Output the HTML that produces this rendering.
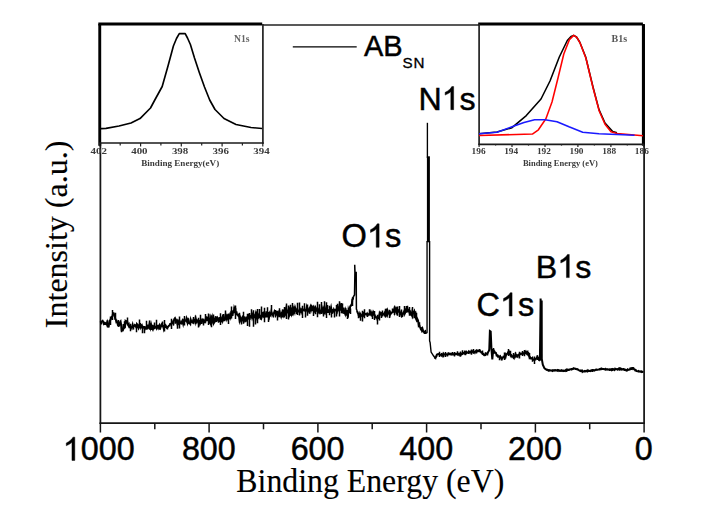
<!DOCTYPE html>
<html><head><meta charset="utf-8"><title>XPS</title>
<style>
html,body{margin:0;padding:0;background:#fff;}
body{width:704px;height:506px;overflow:hidden;}
svg{display:block;}
.sans{font-family:"Liberation Sans",sans-serif;}
.serif{font-family:"Liberation Serif",serif;}
</style></head>
<body>
<svg width="704" height="506" viewBox="0 0 704 506">
<defs><filter id="soft" x="-5%" y="-30%" width="110%" height="160%"><feGaussianBlur stdDeviation="0.38"/></filter></defs>
<rect x="0" y="0" width="704" height="506" fill="#ffffff"/>
<!-- main frame -->
<g stroke="#161616" stroke-width="1.75" fill="none">
<line x1="100.4" y1="24.9" x2="100.4" y2="423.95000000000005"/>
<line x1="99.55000000000001" y1="423.1" x2="644.95" y2="423.1"/>
<line x1="644.1" y1="24.9" x2="644.1" y2="423.95000000000005"/>
<line x1="100.4" y1="24.9" x2="644.1" y2="24.9" stroke-width="1.5" stroke="#222"/>
<g stroke-width="1.5"><line x1="644.1" y1="423.1" x2="644.1" y2="432.5"/><line x1="589.7" y1="423.1" x2="589.7" y2="429.3"/><line x1="535.4" y1="423.1" x2="535.4" y2="432.5"/><line x1="481.0" y1="423.1" x2="481.0" y2="429.3"/><line x1="426.6" y1="423.1" x2="426.6" y2="432.5"/><line x1="372.2" y1="423.1" x2="372.2" y2="429.3"/><line x1="317.9" y1="423.1" x2="317.9" y2="432.5"/><line x1="263.5" y1="423.1" x2="263.5" y2="429.3"/><line x1="209.1" y1="423.1" x2="209.1" y2="432.5"/><line x1="154.8" y1="423.1" x2="154.8" y2="429.3"/><line x1="100.4" y1="423.1" x2="100.4" y2="432.5"/></g>
</g>
<!-- main spectrum -->
<g fill="none" stroke="#000" stroke-linejoin="miter" stroke-miterlimit="5"><path d="M100.5,321.2 L101.0,322.2 L101.6,321.5 L102.1,321.5 L102.7,320.9 L103.2,321.8 L103.8,323.6 L104.3,322.9 L104.9,323.7 L105.4,323.3 L105.9,324.0 L106.5,324.4 L107.0,322.8 L107.6,326.5 L108.1,326.7 L108.7,326.6 L109.2,322.4 L109.7,320.7 L110.3,320.1 L110.8,318.9 L111.4,318.5 L111.9,316.7 L112.5,316.1 L113.0,313.4 L113.6,313.2 L114.1,314.2 L114.6,314.6 L115.2,319.1 L115.7,319.3 L116.3,321.8 L116.8,321.3 L117.4,322.9 L117.9,325.1 L118.5,325.9 L119.0,325.7 L119.5,324.2 L120.1,322.3 L120.6,321.6 L121.2,325.1 L121.7,330.3 L122.3,330.4 L122.8,330.4 L123.3,329.3 L123.9,325.8 L124.4,326.3 L125.0,326.6 L125.5,321.3 L126.1,322.1 L126.6,321.1 L127.2,321.3 L127.7,324.4 L128.2,325.2 L128.8,324.3 L129.3,327.2 L129.9,327.1 L130.4,327.5 L131.0,328.2 L131.5,326.9 L132.1,326.6 L132.6,324.9 L133.1,327.2 L133.7,325.8 L134.2,326.0 L134.8,325.0 L135.3,325.4 L135.9,325.9 L136.4,328.1 L136.9,324.1 L137.5,324.8 L138.0,326.8 L138.6,328.3 L139.1,327.2 L139.7,324.3 L140.2,324.1 L140.8,327.0 L141.3,325.7 L141.8,325.2 L142.4,327.7 L142.9,327.9 L143.5,326.8 L144.0,326.9 L144.6,327.1 L145.1,328.5 L145.7,327.3 L146.2,327.2 L146.7,327.2 L147.3,324.7 L147.8,328.1 L148.4,327.7 L148.9,327.2 L149.5,324.2 L150.0,325.8 L150.5,327.6 L151.1,324.4 L151.6,326.4 L152.2,327.8 L152.7,325.0 L153.3,328.5 L153.8,327.2 L154.4,326.4 L154.9,326.9 L155.4,327.3 L156.0,326.7 L156.5,327.9 L157.1,325.7 L157.6,326.0 L158.2,327.8 L158.7,326.5 L159.3,325.4 L159.8,327.6 L160.3,328.2 L160.9,325.9 L161.4,324.8 L162.0,326.3 L162.5,326.3 L163.1,326.1 L163.6,328.1 L164.1,325.2 L164.7,327.9 L165.2,324.9 L165.8,325.5 L166.3,327.2 L166.9,327.8 L167.4,327.4 L168.0,326.8 L168.5,326.1 L169.0,325.6 L169.6,325.5 L170.1,324.1 L170.7,324.1 L171.2,323.9 L171.8,322.7 L172.3,323.0 L172.9,322.0 L173.4,323.0 L173.9,320.3 L174.5,318.7 L175.0,318.1 L175.6,319.4 L176.1,321.4 L176.7,320.8 L177.2,322.5 L177.7,325.2 L178.3,321.4 L178.8,322.4 L179.4,323.7 L179.9,323.6 L180.5,323.1 L181.0,322.0 L181.6,323.0 L182.1,322.2 L182.6,321.0 L183.2,323.7 L183.7,321.4 L184.3,320.0 L184.8,320.5 L185.4,320.5 L185.9,320.9 L186.5,318.7 L187.0,320.7 L187.5,322.7 L188.1,320.3 L188.6,321.8 L189.2,323.2 L189.7,323.2 L190.3,324.0 L190.8,320.0 L191.3,321.5 L191.9,321.3 L192.4,322.3 L193.0,322.7 L193.5,318.8 L194.1,322.4 L194.6,319.2 L195.2,321.6 L195.7,318.8 L196.2,320.7 L196.8,322.0 L197.3,320.5 L197.9,321.0 L198.4,321.8 L199.0,321.0 L199.5,320.8 L200.0,323.9 L200.5,322.9 L201.1,320.3 L201.6,323.8 L202.2,318.6 L202.7,322.3 L203.3,320.0 L203.8,320.7 L204.4,321.7 L204.9,320.7 L205.4,321.4 L206.0,317.3 L206.5,317.3 L207.1,321.1 L207.6,318.2 L208.2,318.0 L208.7,317.1 L209.2,322.2 L209.8,321.2 L210.3,322.5 L210.9,318.0 L211.4,319.7 L212.0,317.5 L212.5,321.0 L213.1,322.5 L213.6,317.9 L214.1,322.4 L214.7,321.3 L215.2,319.0 L215.8,316.3 L216.3,321.9 L216.9,319.0 L217.4,318.0 L218.0,319.8 L218.5,319.8 L219.0,321.8 L219.6,317.0 L220.1,321.0 L220.7,321.6 L221.2,321.5 L221.8,318.4 L222.3,317.3 L222.8,320.5 L223.4,318.8 L223.9,318.7 L224.5,321.0 L225.0,317.6 L225.6,314.9 L226.1,316.9 L226.7,314.4 L227.2,318.7 L227.7,317.6 L228.3,315.6 L228.8,316.5 L229.4,317.5 L229.9,315.4 L230.5,317.0 L231.0,313.7 L231.6,315.0 L232.1,315.2 L232.6,315.1 L233.2,310.5 L233.7,313.1 L234.3,308.1 L234.8,309.4 L235.4,309.2 L235.9,315.0 L236.4,311.4 L237.0,314.5 L237.5,314.7 L238.1,315.5 L238.6,315.0 L239.2,317.1 L239.7,320.2 L240.3,317.8 L240.8,319.2 L241.3,320.6 L241.9,318.9 L242.4,317.5 L243.0,318.8 L243.5,321.7 L244.1,316.5 L244.6,318.2 L245.2,321.0 L245.7,320.4 L246.2,318.7 L246.8,320.0 L247.3,318.7 L247.9,316.2 L248.4,315.4 L249.0,317.0 L249.5,319.8 L250.0,317.0 L250.6,316.3 L251.1,316.5 L251.7,315.0 L252.2,317.5 L252.8,315.5 L253.3,318.3 L253.9,314.5 L254.4,318.0 L254.9,316.0 L255.5,314.1 L256.0,318.3 L256.6,316.3 L257.1,313.6 L257.7,314.8 L258.2,316.8 L258.8,315.3 L259.3,317.4 L259.8,317.2 L260.4,316.9 L260.9,316.1 L261.5,317.9 L262.0,316.5 L262.6,316.0 L263.1,312.0 L263.6,316.6 L264.2,317.2 L264.7,314.1 L265.3,313.7 L265.8,317.4 L266.4,311.3 L266.9,315.1 L267.5,317.1 L268.0,312.2 L268.5,315.1 L269.1,316.7 L269.6,313.4 L270.2,314.5 L270.7,315.2 L271.3,311.8 L271.8,313.3 L272.4,314.0 L272.9,315.0 L273.4,313.4 L274.0,313.1 L274.5,311.5 L275.1,312.7 L275.6,315.0 L276.2,313.6 L276.7,311.8 L277.2,311.8 L277.8,316.3 L278.3,315.5 L278.9,314.5 L279.4,310.3 L280.0,314.5 L280.5,314.1 L281.1,316.1 L281.6,313.8 L282.1,312.7 L282.7,313.7 L283.2,309.6 L283.8,314.4 L284.3,313.0 L284.9,311.0 L285.4,314.6 L286.0,315.1 L286.5,309.3 L287.0,310.6 L287.6,312.2 L288.1,311.9 L288.7,310.7 L289.2,309.6 L289.8,314.3 L290.3,313.1 L290.8,308.9 L291.4,308.6 L291.9,314.1 L292.5,312.9 L293.0,314.0 L293.6,312.5 L294.1,309.3 L294.7,311.4 L295.2,307.9 L295.7,309.5 L296.3,310.7 L296.8,311.8 L297.4,309.4 L297.9,310.5 L298.5,311.5 L299.0,311.4 L299.6,311.8 L300.1,311.0 L300.6,309.9 L301.2,312.0 L301.7,310.6 L302.3,308.9 L302.8,309.2 L303.4,310.3 L303.9,310.1 L304.4,310.5 L305.0,310.2 L305.5,310.5 L306.1,309.9 L306.6,307.7 L307.2,310.8 L307.7,311.9 L308.3,310.7 L308.8,309.5 L309.3,310.7 L309.9,308.0 L310.4,306.8 L311.0,309.9 L311.5,308.0 L312.1,311.1 L312.6,307.7 L313.2,306.7 L313.7,307.8 L314.2,312.6 L314.8,308.9 L315.3,307.1 L315.9,308.2 L316.4,310.6 L317.0,310.5 L317.5,309.9 L318.0,312.3 L318.6,310.9 L319.1,309.5 L319.7,310.6 L320.2,312.5 L320.8,311.3 L321.3,311.5 L321.9,307.6 L322.4,309.3 L322.9,311.0 L323.5,309.1 L324.0,311.7 L324.6,310.8 L325.1,311.4 L325.7,309.4 L326.2,312.8 L326.8,312.1 L327.3,309.5 L327.8,310.1 L328.4,312.9 L328.9,309.3 L329.5,311.6 L330.0,311.8 L330.6,310.0 L331.1,307.7 L331.6,310.2 L332.2,310.5 L332.7,311.9 L333.3,311.2 L333.8,309.7 L334.4,311.2 L334.9,310.6 L335.5,309.9 L336.0,309.6 L336.5,309.0 L337.1,310.7 L337.6,307.4 L338.2,308.1 L338.7,309.3 L339.3,306.5 L339.8,308.4 L340.4,306.1 L340.9,307.8 L341.4,310.1 L342.0,310.1 L342.5,309.3 L343.1,309.5 L343.6,307.7 L344.2,313.8 L344.7,312.2 L345.2,313.7 L345.8,310.5 L346.3,312.3 L346.9,310.1 L347.4,315.0 L348.0,315.7 L348.5,310.0 L349.1,311.8 L349.6,312.0 L350.1,306.7 L350.7,305.6 L351.2,305.6 L351.8,304.2 L352.3,299.6 L352.9,299.0 L353.2,297.0" stroke-width="2.0"/><path d="M353.2,297.0 L354.5,295.0 L354.9,272.5 L354.7,264.7 L355.0,272.3 L356.2,272.5 L356.4,309.0 L357.2,311.0" stroke-width="1.5"/><path d="M357.2,311.0 L357.2,311.3 L357.7,312.7 L358.3,313.7 L358.8,315.6 L359.4,316.1 L359.9,314.1 L360.5,316.0 L361.0,315.5 L361.6,315.1 L362.1,315.8 L362.6,315.5 L363.2,315.7 L363.7,312.8 L364.3,313.0 L364.8,314.5 L365.4,314.3 L365.9,314.1 L366.4,314.4 L367.0,313.6 L367.5,315.3 L368.1,314.9 L368.6,314.4 L369.2,313.7 L369.7,314.3 L370.3,312.1 L370.8,313.3 L371.3,314.5 L371.9,312.7 L372.4,314.7 L373.0,314.7 L373.5,312.8 L374.1,314.3 L374.6,315.0 L375.2,316.6 L375.7,317.5 L376.2,317.5 L376.8,317.3 L377.3,318.8 L377.9,318.0 L378.4,318.0 L379.0,316.6 L379.5,314.5 L380.0,312.9 L380.6,314.0 L381.1,313.5 L381.7,313.0 L382.2,314.1 L382.8,313.6 L383.3,314.2 L383.9,314.6 L384.4,313.5 L384.9,316.3 L385.5,313.4 L386.0,315.1 L386.6,313.8 L387.1,314.9 L387.7,311.1 L388.2,312.5 L388.8,313.4 L389.3,313.6 L389.8,315.0 L390.4,312.7 L390.9,313.6 L391.5,312.7 L392.0,312.6 L392.6,311.8 L393.1,310.7 L393.6,311.3 L394.2,309.1 L394.7,311.5 L395.3,308.6 L395.8,309.8 L396.4,311.6 L396.9,308.8 L397.5,309.6 L398.0,311.5 L398.5,310.7 L399.1,310.2 L399.6,312.0 L400.2,312.9 L400.7,313.8 L401.3,312.7 L401.8,316.4 L402.4,316.1 L402.9,313.5 L403.4,313.1 L404.0,311.7 L404.5,313.2 L405.1,310.1 L405.6,311.3 L406.2,309.5 L406.7,308.8 L407.2,310.1 L407.8,310.9 L408.3,309.8 L408.9,309.6 L409.4,311.9 L410.0,311.4 L410.5,312.7 L411.1,315.0 L411.6,315.4 L412.1,312.7 L412.7,315.0 L413.2,312.0 L413.8,312.2 L414.3,311.2 L414.9,313.5 L415.4,313.0 L416.0,318.8 L416.5,319.9 L417.0,318.3 L417.6,319.4 L418.1,320.7 L418.7,325.5 L419.2,324.9 L419.8,326.6 L420.3,327.6 L420.8,329.0 L421.4,328.5 L421.9,330.2 L422.5,328.8 L423.0,330.8 L423.6,331.6 L424.1,332.2 L424.7,331.7 L425.2,331.3 L425.7,333.0 L426.6,333.0" stroke-width="2.0"/><path d="M427.4,122.8V158" stroke-width="1.35"/><path d="M428.4,156.3V242.3" stroke-width="3.0"/><path d="M426.4,333.3L427.05,332.5V241" stroke-width="1.35"/><path d="M429.6,241V341L430.1,342.5L431.1,352L433.5,355.8L435.2,358" stroke-width="1.4"/><path d="M434.6,357.6 L435.2,358.0 L435.2,357.8 L435.7,357.7 L436.3,356.2 L436.8,354.8 L437.4,354.3 L437.9,354.2 L438.5,354.0 L439.0,354.3 L439.6,354.6 L440.1,354.7 L440.6,354.7 L441.2,355.4 L441.7,354.1 L442.3,354.4 L442.8,355.5 L443.4,353.5 L443.9,354.1 L444.4,354.4 L445.0,354.4 L445.5,354.5 L446.1,354.2 L446.6,354.5 L447.2,354.3 L447.7,354.6 L448.3,353.4 L448.8,353.8 L449.3,354.2 L449.9,353.7 L450.4,353.7 L451.0,354.5 L451.5,353.9 L452.1,354.5 L452.6,354.5 L453.2,354.3 L453.7,354.4 L454.2,354.1 L454.8,353.5 L455.3,354.1 L455.9,354.3 L456.4,353.8 L457.0,354.0 L457.5,354.4 L458.0,353.6 L458.6,354.3 L459.1,354.9 L459.7,353.8 L460.2,354.0 L460.8,353.8 L461.3,354.4 L461.9,353.7 L462.4,353.9 L462.9,353.0 L463.5,353.2 L464.0,353.1 L464.6,352.2 L465.1,353.6 L465.7,353.2 L466.2,351.9 L466.8,352.9 L467.3,352.4 L467.8,352.5 L468.4,352.4 L468.9,351.4 L469.5,351.9 L470.0,352.6 L470.6,351.6 L471.1,351.4 L471.6,351.1 L472.2,351.2 L472.7,351.8 L473.3,352.4 L473.8,351.8 L474.4,351.6 L474.9,352.5 L475.5,351.2 L476.0,351.0 L476.5,351.5 L477.1,351.5 L477.6,350.7 L478.2,350.6 L478.7,351.2 L479.3,351.1 L479.8,350.6 L480.4,351.6 L480.9,351.8 L481.4,352.7 L482.0,352.9 L482.5,353.3 L483.1,353.6 L483.6,354.7 L484.2,355.2 L484.7,354.8 L485.2,355.0 L485.8,353.8 L486.3,353.8 L486.9,353.7 L487.4,353.6 L488.0,352.3 L488.5,351.4 L489.1,350.4 L489.3,349.0 L489.9,331.0 L490.7,331.5 L491.5,350.0 L492.3,359.5 L493.2,350.0 L493.2,349.1 L493.7,350.8 L494.3,351.2 L494.8,352.6 L495.4,352.5 L495.9,352.8 L496.5,354.8 L497.0,355.4 L497.6,355.3 L498.1,356.6 L498.6,356.2 L499.2,356.4 L499.7,357.4 L500.3,356.5 L500.8,357.5 L501.4,358.3 L501.9,358.9 L502.4,357.7 L503.0,357.6 L503.5,356.5 L504.1,356.6 L504.6,357.0 L505.2,355.0 L505.7,356.5 L506.3,354.1 L506.8,354.0 L507.3,353.6 L507.9,353.7 L508.4,351.8 L509.0,351.6 L509.5,353.8 L510.1,354.4 L510.6,354.8 L511.2,356.3 L511.7,355.4 L512.2,356.0 L512.8,356.9 L513.3,357.0 L513.9,357.9 L514.4,355.9 L515.0,356.2 L515.5,354.7 L516.0,356.4 L516.6,355.4 L517.1,356.0 L517.7,356.6 L518.2,355.0 L518.8,354.6 L519.3,354.2 L519.9,353.7 L520.4,353.6 L520.9,354.2 L521.5,353.7 L522.0,353.6 L522.6,353.3 L523.1,353.8 L523.7,353.4 L524.2,352.8 L524.8,353.2 L525.3,352.5 L525.8,351.7 L526.4,353.2 L526.9,352.4 L527.5,351.9 L528.0,354.6 L528.6,355.6 L529.1,355.6 L529.6,358.0 L530.2,357.5 L530.7,358.3 L531.3,358.2 L531.8,358.4 L532.4,357.9 L532.9,359.9 L533.5,359.6 L534.0,359.8 L534.5,359.9 L535.1,359.4 L535.6,359.5 L536.2,358.5 L536.7,358.4 L537.3,356.8 L537.8,357.5 L538.4,358.1 L538.9,359.9 L539.4,360.3 L539.9,360.0 L540.6,302.0 L540.6,298.5 L540.7,301.5 L541.7,301.5 L541.8,359.0 L542.8,364.7 L544.5,368.4 L546.0,369.4 L546.0,369.4 L546.5,369.9 L547.1,369.6 L547.6,370.0 L548.2,370.4 L548.7,370.1 L549.3,370.5 L549.8,370.2 L550.4,370.5 L550.9,370.4 L551.4,370.4 L552.0,370.7 L552.5,371.0 L553.1,370.3 L553.6,370.3 L554.2,370.6 L554.7,370.2 L555.2,370.6 L555.8,370.6 L556.3,370.4 L556.9,370.6 L557.4,370.1 L558.0,370.7 L558.5,370.1 L559.1,370.3 L559.6,370.4 L560.1,370.4 L560.7,370.8 L561.2,370.6 L561.8,370.5 L562.3,370.7 L562.9,371.0 L563.4,370.6 L564.0,370.7 L564.5,370.9 L565.0,370.7 L565.6,370.2 L566.1,371.0 L566.7,370.8 L567.2,369.6 L567.8,370.0 L568.3,370.0 L568.8,370.0 L569.4,369.8 L569.9,369.5 L570.5,369.2 L571.0,369.3 L571.6,369.5 L572.1,368.8 L572.7,368.7 L573.2,368.8 L573.7,368.3 L574.3,368.6 L574.8,368.6 L575.4,369.0 L575.9,368.9 L576.5,369.1 L577.0,369.4 L577.6,369.6 L578.1,369.7 L578.6,370.0 L579.2,370.4 L579.7,370.7 L580.3,371.0 L580.8,370.6 L581.4,370.8 L581.9,370.5 L582.4,371.8 L583.0,371.3 L583.5,371.6 L584.1,371.6 L584.6,371.1 L585.2,371.5 L585.7,371.3 L586.3,370.8 L586.8,371.2 L587.3,371.4 L587.9,370.5 L588.4,371.1 L589.0,370.9 L589.5,370.9 L590.1,370.8 L590.6,371.0 L591.2,370.5 L591.7,370.7 L592.2,370.4 L592.8,370.6 L593.3,370.1 L593.9,370.2 L594.4,370.6 L595.0,370.2 L595.5,370.0 L596.0,369.6 L596.6,369.6 L597.1,369.7 L597.7,369.8 L598.2,369.6 L598.8,369.5 L599.3,369.2 L599.9,369.5 L600.4,368.9 L600.9,368.8 L601.5,369.2 L602.0,369.0 L602.6,369.0 L603.1,368.9 L603.7,369.0 L604.2,369.3 L604.8,369.3 L605.3,368.9 L605.8,369.4 L606.4,369.4 L606.9,369.1 L607.5,369.6 L608.0,369.4 L608.6,369.4 L609.1,369.7 L609.6,369.9 L610.2,369.4 L610.7,369.7 L611.3,369.3 L611.8,370.1 L612.4,369.3 L612.9,369.7 L613.5,369.2 L614.0,369.5 L614.5,369.9 L615.1,368.7 L615.6,369.1 L616.2,369.3 L616.7,369.1 L617.3,369.0 L617.8,369.6 L618.4,369.1 L618.9,368.6 L619.4,369.2 L620.0,368.5 L620.5,369.2 L621.1,368.8 L621.6,369.1 L622.2,369.5 L622.7,369.3 L623.2,369.1 L623.8,369.1 L624.3,369.9 L624.9,369.9 L625.4,369.7 L626.0,370.2 L626.5,370.2 L627.1,370.3 L627.6,369.4 L628.1,369.7 L628.7,369.9 L629.2,369.6 L629.8,369.5 L630.3,368.5 L630.9,369.0 L631.4,368.9 L632.0,369.1 L632.5,368.1 L633.0,368.1 L633.6,368.7 L634.1,369.3 L634.7,369.4 L635.2,370.3 L635.8,370.2 L636.3,370.9 L636.8,371.1 L637.4,371.3 L637.9,371.2 L638.5,371.0 L639.0,371.7 L639.6,371.6 L640.1,371.4 L640.7,371.7 L641.2,372.0 L641.7,371.5 L642.3,371.8 L642.8,372.0 L643.4,372.1" stroke-width="2.0"/><path d="M101.5,321.2V324.4M104.5,321.9V325.1M107.5,320.2V325.9M110.5,316.6V324.9M112.5,309.9V319.9M115.5,312.7V318.5M118.5,320.0V326.4M121.5,324.3V332.2M123.5,324.0V329.0M124.5,321.3V328.8M127.5,317.4V323.7M130.5,323.7V331.2M133.5,326.0V329.6M136.5,326.0V332.3M139.5,319.6V327.0M142.5,326.1V333.2M144.5,326.1V333.3M146.5,320.7V329.8M149.5,320.4V329.7M151.5,326.1V330.0M154.5,322.6V329.2M156.5,319.8V327.0M159.5,326.0V329.8M162.5,321.6V327.0M164.5,320.0V331.4M167.5,325.9V329.4M171.5,318.7V329.1M173.5,320.0V325.6M175.5,318.8V323.8M177.5,319.8V328.7M179.5,316.5V328.5M182.5,319.2V324.3M184.5,316.1V325.4M188.5,318.3V322.3M190.5,319.6V322.7M193.5,317.1V321.8M195.5,315.5V324.1M198.5,317.7V327.5M200.5,314.7V321.5M203.5,319.9V325.5M205.5,313.9V320.8M208.5,313.6V325.1M211.5,315.5V327.3M213.5,314.5V323.7M215.5,318.8V322.3M218.5,318.5V322.7M220.5,313.3V325.1M223.5,314.0V319.1M225.5,310.4V318.5M228.5,313.8V324.0M231.5,306.4V318.4M234.5,306.9V311.6M235.5,305.6V318.9M239.5,312.7V322.7M241.5,318.3V324.6M243.5,311.7V323.7M247.5,313.7V326.1M249.5,312.9V326.7M251.5,309.2V318.5M253.5,310.3V326.7M255.5,316.4V324.5M257.5,308.9V323.2M259.5,308.9V316.6M260.5,315.0V319.8M261.5,306.6V316.0M263.5,311.5V315.6M264.5,307.7V322.2M267.5,307.2V314.7M268.5,313.2V322.0M271.5,305.0V314.1M273.5,312.8V317.4M275.5,309.9V314.1M277.5,312.7V320.4M279.5,308.3V317.2M281.5,312.3V317.5M282.5,309.4V317.6M284.5,306.9V317.6M286.5,303.6V318.9M288.5,305.6V319.4M290.5,304.7V315.8M292.5,302.9V311.7M293.5,306.5V311.7M296.5,310.1V314.1M297.5,302.7V315.1M299.5,302.4V315.5M302.5,305.8V317.9M304.5,303.2V310.9M305.5,309.5V317.6M307.5,304.6V315.7M309.5,309.2V313.7M311.5,305.2V310.4M313.5,309.0V316.0M315.5,309.0V314.3M317.5,301.8V317.3M319.5,304.3V313.7M321.5,301.9V313.9M323.5,309.0V316.4M324.5,301.2V314.4M326.5,302.3V318.1M327.5,305.1V310.5M329.5,305.7V315.2M331.5,309.2V317.5M332.5,309.1V313.7M334.5,309.0V317.6M336.5,305.0V316.5M337.5,303.8V310.0M339.5,301.2V316.6M341.5,303.0V313.2M342.5,303.4V313.5M345.5,307.9V315.2M347.5,313.1V319.1M350.5,308.5V314.1M352.5,297.5V306.0M358.5,312.8V318.3M360.5,312.8V320.7M362.5,310.8V321.5M364.5,309.2V318.2M367.5,314.1V316.9M369.5,309.2V314.9M372.5,311.9V319.0M374.5,311.0V319.9M377.5,314.8V324.6M379.5,311.6V320.6M381.5,313.9V317.9M382.5,310.4V316.4M385.5,308.8V317.4M386.5,308.6V314.1M389.5,309.7V318.1M392.5,308.5V311.7M394.5,309.8V314.9M397.5,306.6V315.7M399.5,306.1V317.0M401.5,309.5V316.6M404.5,306.0V314.8M406.5,305.9V312.7M407.5,305.7V312.2M409.5,307.1V315.7M412.5,307.0V318.5M414.5,312.0V318.2M416.5,312.8V318.7M419.5,322.3V326.4M422.5,328.9V332.3M424.5,331.6V334.1M436.5,355.2V357.0M439.5,351.7V357.0M443.5,354.1V357.2M445.5,352.1V357.0M447.5,354.0V356.6M449.5,352.8V354.5M452.5,352.0V354.4M454.5,351.9V356.4M457.5,351.2V354.3M460.5,351.4V356.8M462.5,350.3V354.8M465.5,351.6V355.2M468.5,351.9V354.0M471.5,349.6V354.8M473.5,349.1V353.4M476.5,349.2V353.5M479.5,348.9V351.2M482.5,350.4V355.1M485.5,352.2V356.1M487.5,352.6V355.4M493.5,348.0V353.7M496.5,354.5V356.6M499.5,356.7V360.2M501.5,356.7V360.5M504.5,352.5V359.9M508.5,349.1V355.9M510.5,350.7V356.5M513.5,353.1V358.8M515.5,352.3V356.5M519.5,351.7V358.4M522.5,351.0V355.9M524.5,350.0V356.3M528.5,351.9V355.5M529.5,352.9V357.2M532.5,358.6V361.8M534.5,356.4V364.0M537.5,355.2V359.9M546.5,369.0V369.6M548.5,369.4V371.5M550.5,370.3V371.1M552.5,369.6V371.7M555.5,369.2V370.6M559.5,370.4V371.8M561.5,369.3V371.6M566.5,368.8V371.5M568.5,368.7V370.0M573.5,367.9V368.9M577.5,368.2V369.8M580.5,369.7V370.8M584.5,370.2V372.1M588.5,369.7V372.1M592.5,369.1V371.9M596.5,369.0V370.4M601.5,367.6V369.8M605.5,369.1V370.6M609.5,368.6V371.0M612.5,368.3V370.9M616.5,368.6V370.0M619.5,367.6V370.4M621.5,369.0V370.4M626.5,369.3V371.5M631.5,367.2V369.6M633.5,367.3V369.4M637.5,371.2V372.1M641.5,370.7V372.5" stroke-width="1.5"/></g>
<!-- axis tick labels -->
<g class="sans" fill="#000" stroke="#000" stroke-width="0.45"><text x="634.82" y="460.40" font-size="32.30">0</text><text x="508.11" y="460.40" font-size="32.30">200</text><text x="399.37" y="460.40" font-size="32.30">400</text><text x="290.63" y="460.40" font-size="32.30">600</text><text x="181.89" y="460.40" font-size="32.30">800</text><path transform="translate(62.77,460.40) scale(0.01577,-0.01577)" d="M763 0h-180v1147q-65 -62 -170.5 -124t-189.5 -93v174q151 71 264 172t160 196h116v-1472z" stroke-width="28.5"/><text x="80.74" y="460.40" font-size="32.30">000</text></g>
<g class="serif" fill="#000" stroke="#000" stroke-width="0.12">
<text transform="translate(370.3,492.4) scale(1,1.035)" font-size="31.8" text-anchor="middle">Binding Energy (eV)</text>
<text transform="translate(66.6,234.4) rotate(-90)" font-size="32" text-anchor="middle">Intensity (a.u.)</text>
</g>
<!-- peak labels -->
<g class="sans" fill="#000" stroke="#000" stroke-width="0.45">
<text x="341.60" y="247.30" font-size="32.60">O</text><path transform="translate(366.96,247.30) scale(0.01592,-0.01592)" d="M763 0h-180v1147q-65 -62 -170.5 -124t-189.5 -93v174q151 71 264 172t160 196h116v-1472z" stroke-width="28.3"/><text x="385.09" y="247.30" font-size="32.60">s</text>
<text x="418.40" y="109.70" font-size="32.20">N</text><path transform="translate(441.65,109.70) scale(0.01572,-0.01572)" d="M763 0h-180v1147q-65 -62 -170.5 -124t-189.5 -93v174q151 71 264 172t160 196h116v-1472z" stroke-width="28.6"/><text x="459.56" y="109.70" font-size="32.20">s</text>
<text x="476.60" y="316.00" font-size="32.40">C</text><path transform="translate(500.00,316.00) scale(0.01582,-0.01582)" d="M763 0h-180v1147q-65 -62 -170.5 -124t-189.5 -93v174q151 71 264 172t160 196h116v-1472z" stroke-width="28.4"/><text x="518.02" y="316.00" font-size="32.40">s</text>
<text x="535.80" y="277.60" font-size="32.20">B</text><path transform="translate(557.28,277.60) scale(0.01572,-0.01572)" d="M763 0h-180v1147q-65 -62 -170.5 -124t-189.5 -93v174q151 71 264 172t160 196h116v-1472z" stroke-width="28.6"/><text x="575.19" y="277.60" font-size="32.20">s</text>
<text x="364.0" y="56.1" font-size="29">AB</text>
<text transform="translate(402.6,67.5) scale(1.1,1)" font-size="13.8" letter-spacing="0.6" stroke-width="0.3">SN</text>
</g>
<line x1="292.8" y1="46.9" x2="356.7" y2="46.9" stroke="#000" stroke-width="1.4"/>
<!-- inset 1 -->
<g stroke="#000" fill="none">
<rect x="100" y="24.2" width="162.9" height="118.8" fill="#fff" stroke="none"/>
<line x1="98.3" y1="24.0" x2="262.2" y2="24.0" stroke-width="2.9"/>
<line x1="99.75" y1="24.0" x2="99.75" y2="145.8" stroke-width="2.9"/>
<line x1="262.9" y1="24" x2="262.9" y2="143.8" stroke-width="1.7" stroke="#222"/>
<line x1="99" y1="143.0" x2="263.7" y2="143.0" stroke-width="1.7" stroke="#1a1a1a"/>
<g stroke-width="1.2" stroke="#222"><line x1="99.8" y1="143.0" x2="99.8" y2="146.6"/><line x1="120.2" y1="143.0" x2="120.2" y2="145.4"/><line x1="140.6" y1="143.0" x2="140.6" y2="146.6"/><line x1="160.9" y1="143.0" x2="160.9" y2="145.4"/><line x1="181.3" y1="143.0" x2="181.3" y2="146.6"/><line x1="201.7" y1="143.0" x2="201.7" y2="145.4"/><line x1="222.1" y1="143.0" x2="222.1" y2="146.6"/><line x1="242.4" y1="143.0" x2="242.4" y2="145.4"/><line x1="262.8" y1="143.0" x2="262.8" y2="146.6"/></g>
<path d="M101.0,128.6 L106.0,128.4 L119.0,126.0 L131.0,123.0 L140.0,118.6 L150.5,108.0 L154.8,100.0 L162.2,86.5 L168.0,66.0 L173.4,46.0 L176.5,38.5 L179.3,33.6 L185.2,33.6 L187.5,38.0 L190.4,44.5 L194.5,58.0 L199.3,72.4 L204.5,87.0 L209.7,100.0 L215.0,109.5 L224.0,118.5 L236.0,124.5 L251.0,127.5 L262.0,128.5" stroke-width="1.65" stroke-linejoin="round"/>
</g>
<g class="serif" font-size="8.9" font-weight="bold" fill="#3a3a3a" filter="url(#soft)"><text x="98.7" y="154.1" text-anchor="middle" textLength="16.4" lengthAdjust="spacingAndGlyphs">402</text><text x="139.4" y="154.1" text-anchor="middle" textLength="16.4" lengthAdjust="spacingAndGlyphs">400</text><text x="180.1" y="154.1" text-anchor="middle" textLength="16.4" lengthAdjust="spacingAndGlyphs">398</text><text x="220.8" y="154.1" text-anchor="middle" textLength="16.4" lengthAdjust="spacingAndGlyphs">396</text><text x="261.5" y="154.1" text-anchor="middle" textLength="16.4" lengthAdjust="spacingAndGlyphs">394</text>
<text x="180.2" y="166.3" text-anchor="middle" font-size="8.9" textLength="78" lengthAdjust="spacingAndGlyphs">Binding Energy(eV)</text>
<text x="241.8" y="41.9" text-anchor="middle" font-size="9.6" fill="#666" textLength="15.6" lengthAdjust="spacingAndGlyphs">N1s</text>
</g>
<!-- inset 2 -->
<g stroke="#000" fill="none">
<rect x="479" y="24.2" width="164" height="120" fill="#fff" stroke="none"/>
<line x1="478.2" y1="24.0" x2="642.9" y2="24.0" stroke-width="3"/>
<line x1="643.4" y1="24.0" x2="643.4" y2="145.7" stroke-width="3"/>
<line x1="479.1" y1="24" x2="479.1" y2="145.1" stroke-width="1.7" stroke="#222"/>
<line x1="478.3" y1="144.3" x2="644" y2="144.3" stroke-width="1.7" stroke="#1a1a1a"/>
<g stroke-width="1.2" stroke="#222"><line x1="479.1" y1="144.3" x2="479.1" y2="146.9"/><line x1="495.6" y1="144.3" x2="495.6" y2="145.6"/><line x1="512.0" y1="144.3" x2="512.0" y2="146.9"/><line x1="528.5" y1="144.3" x2="528.5" y2="145.6"/><line x1="545.0" y1="144.3" x2="545.0" y2="146.9"/><line x1="561.5" y1="144.3" x2="561.5" y2="145.6"/><line x1="577.9" y1="144.3" x2="577.9" y2="146.9"/><line x1="594.4" y1="144.3" x2="594.4" y2="145.6"/><line x1="610.9" y1="144.3" x2="610.9" y2="146.9"/><line x1="627.3" y1="144.3" x2="627.3" y2="145.6"/><line x1="643.8" y1="144.3" x2="643.8" y2="146.9"/></g>
<path d="M479.0,133.7 L497.0,132.0 L512.0,127.7 L526.3,115.6 L541.0,99.0 L550.0,81.0 L559.3,57.0 L567.3,40.5 L571.0,36.5 L573.7,35.4 L576.5,37.0 L579.7,42.0 L585.7,57.0 L593.0,87.0 L599.0,109.6 L605.0,123.0 L612.7,131.6 L617.0,132.8" stroke="#000" stroke-width="1.55" stroke-linejoin="round"/>
<path d="M479.0,135.4 L532.4,134.1 L538.4,129.8 L545.9,118.7 L552.0,102.0 L558.0,78.0 L563.8,54.0 L569.4,39.6 L573.7,35.4 L576.8,37.3 L580.0,42.8 L586.0,58.5 L593.2,88.5 L599.2,111.0 L605.0,124.3 L611.0,131.8 L617.0,133.6 L643.0,135.7" stroke="#f00" stroke-width="1.55" stroke-linejoin="round"/>
<path d="M479.0,133.7 L497.0,132.2 L512.0,126.8 L524.0,122.6 L534.6,119.8 L545.0,119.8 L557.0,121.7 L569.0,126.8 L582.7,132.2 L599.0,133.7 L634.6,135.3" stroke="#1a1aff" stroke-width="1.6" stroke-linejoin="round"/>
</g>
<g class="serif" font-size="8.9" font-weight="bold" fill="#3a3a3a" filter="url(#soft)"><text x="478.6" y="154.1" text-anchor="middle" textLength="14.0" lengthAdjust="spacingAndGlyphs">196</text><text x="511.2" y="154.1" text-anchor="middle" textLength="14.0" lengthAdjust="spacingAndGlyphs">194</text><text x="543.9" y="154.1" text-anchor="middle" textLength="14.0" lengthAdjust="spacingAndGlyphs">192</text><text x="576.5" y="154.1" text-anchor="middle" textLength="14.0" lengthAdjust="spacingAndGlyphs">190</text><text x="609.2" y="154.1" text-anchor="middle" textLength="14.0" lengthAdjust="spacingAndGlyphs">188</text><text x="641.8" y="154.1" text-anchor="middle" textLength="14.0" lengthAdjust="spacingAndGlyphs">186</text>
<text x="560.4" y="166.3" text-anchor="middle" font-size="8.9" textLength="75" lengthAdjust="spacingAndGlyphs">Binding Energy (eV)</text>
<text x="619.4" y="41.9" text-anchor="middle" font-size="9.6" fill="#555" textLength="15.6" lengthAdjust="spacingAndGlyphs">B1s</text>
</g>
</svg>
</body></html>
